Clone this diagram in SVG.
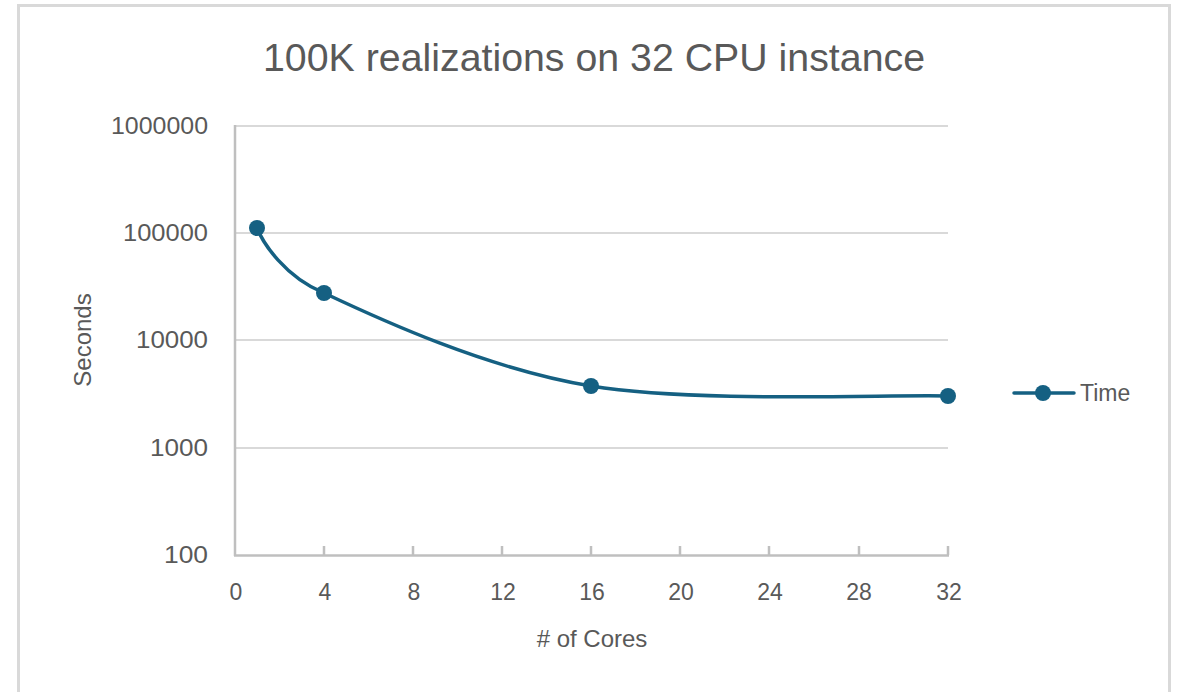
<svg xmlns="http://www.w3.org/2000/svg" width="1181" height="692" viewBox="0 0 1181 692">
<style>
.lbl{font-family:"Liberation Sans",Arial,sans-serif;font-size:23px;fill:#595959}
.grid{stroke:#d9d9d9;stroke-width:2;fill:none}
.axis{stroke:#bfbfbf;stroke-width:2.5;fill:none}
.series{stroke:#156082;stroke-width:3.5;fill:none;stroke-linecap:round}
.pt{fill:#156082}
</style>
<rect x="0" y="0" width="1181" height="692" fill="#ffffff"/>
<rect x="18.5" y="5.5" width="1151" height="700" fill="#ffffff" stroke="#d9d9d9" stroke-width="3"/>
<g id="title">
<text x="594" y="71" text-anchor="middle" font-family="'Liberation Sans Narrow','Liberation Sans',Arial,sans-serif" font-size="39" fill="#595959" textLength="662" lengthAdjust="spacingAndGlyphs">100K realizations on 32 CPU instance</text>
</g>
<g id="gridlines">
<line class="grid" x1="235" y1="126" x2="948" y2="126"/>
<line class="grid" x1="235" y1="233" x2="948" y2="233"/>
<line class="grid" x1="235" y1="340" x2="948" y2="340"/>
<line class="grid" x1="235" y1="448" x2="948" y2="448"/>
</g>
<g id="axes">
<line class="axis" x1="235" y1="125" x2="235" y2="556"/>
<line class="axis" x1="234" y1="555.5" x2="949" y2="555.5"/>
<path class="axis" d="M324 546V555M413 546V555M502 546V555M591 546V555M680 546V555M769 546V555M859 546V555M948 546V555"/>
</g>
<g id="y-labels" class="lbl" text-anchor="end">
<text x="208" y="134" textLength="97" lengthAdjust="spacingAndGlyphs">1000000</text>
<text x="208" y="241" textLength="85" lengthAdjust="spacingAndGlyphs">100000</text>
<text x="208" y="348" textLength="72" lengthAdjust="spacingAndGlyphs">10000</text>
<text x="208" y="456" textLength="58" lengthAdjust="spacingAndGlyphs">1000</text>
<text x="208" y="563" textLength="44" lengthAdjust="spacingAndGlyphs">100</text>
</g>
<g id="x-labels" class="lbl" text-anchor="middle">
<text x="236" y="600">0</text>
<text x="325" y="600">4</text>
<text x="414" y="600">8</text>
<text x="503" y="600">12</text>
<text x="592" y="600">16</text>
<text x="681" y="600">20</text>
<text x="770" y="600">24</text>
<text x="859" y="600">28</text>
<text x="949" y="600">32</text>
</g>
<g id="axis-titles" class="lbl" text-anchor="middle">
<text x="592" y="647" font-size="24">#  of Cores</text>
<text x="0" y="0" font-size="24" transform="translate(91,340) rotate(-90)">Seconds</text>
</g>
<g id="connectors">
<path class="series" d="M257 228C263 243 285 277 324 293C379.7 319.3 487 368.8 591 386C695 403.2 888.5 394.3 948 396"/>
</g>
<g id="points">
<circle class="pt" cx="257" cy="228" r="8"/>
<circle class="pt" cx="324" cy="293" r="8"/>
<circle class="pt" cx="591" cy="386" r="8"/>
<circle class="pt" cx="948" cy="396" r="8"/>
</g>
<g id="legend">
<line class="series" x1="1014" y1="393" x2="1074" y2="393"/>
<circle class="pt" cx="1043" cy="393" r="8"/>
<text class="lbl" x="1080" y="401">Time</text>
</g>
</svg>
